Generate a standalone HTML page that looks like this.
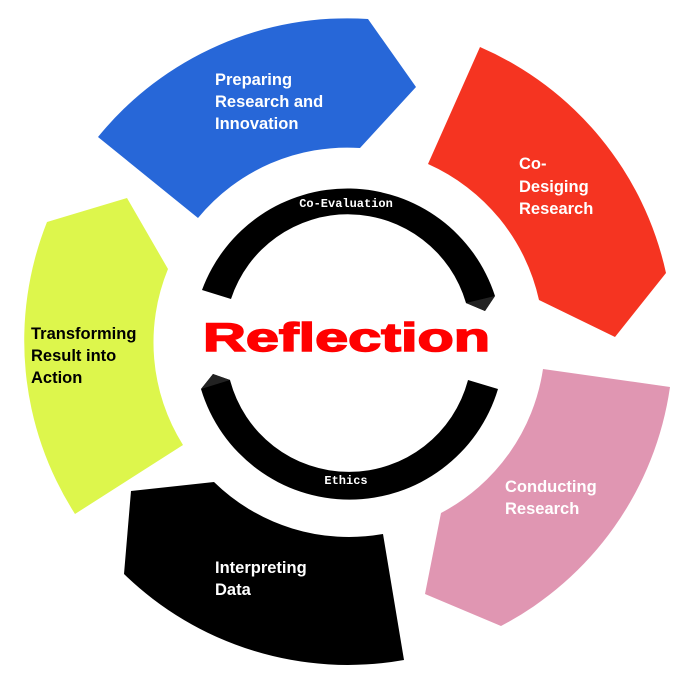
<!DOCTYPE html>
<html><head><meta charset="utf-8"><style>
html,body{margin:0;padding:0;background:#fff;}
svg{display:block;}
.l{font-family:"Liberation Sans",sans-serif;font-weight:bold;font-size:16.5px;}
.m{font-family:"Liberation Mono",monospace;font-weight:bold;font-size:12px;fill:#fff;}
</style></head><body>
<svg width="684" height="684" viewBox="0 0 684 684" xmlns="http://www.w3.org/2000/svg">
<!-- Blue -->
<path d="M98,137 A321,321 0 0 1 368,19 L416,87 L360,148 A193,193 0 0 0 198,218 Z" fill="#2767d8"/>
<!-- Red -->
<path d="M480,47 A321,321 0 0 1 666,273 L615,337 L539,300 A195,195 0 0 0 428,164 Z" fill="#f53421"/>
<!-- Yellow -->
<path d="M127,198 L47,222 A321,321 0 0 0 75,514 L183,445 A193,193 0 0 1 168,269 Z" fill="#ddf64c"/>
<!-- Black -->
<path d="M131,491 L214,482 A193,193 0 0 0 383,534 L404,660 A321,321 0 0 1 124,574 Z" fill="#000"/>
<!-- Pink -->
<path d="M543,369 L670,387 A321,321 0 0 1 501,626 L425,594 L441,513 A195,195 0 0 0 543,369 Z" fill="#e096b2"/>
<!-- top inner arc -->
<path d="M202,290 A155,155 0 0 1 495,296 L485,311 L466,303 A123,123 0 0 0 231,299 Z" fill="#000"/>
<path d="M466,303 L495,296 L485,311 Z" fill="#222"/>
<!-- bottom inner arc -->
<path d="M201,389 L213,374 L230,380 A123,123 0 0 0 468,380 L498,389 A155,155 0 0 1 201,389 Z" fill="#000"/>
<path d="M201,389 L213,374 L230,380 Z" fill="#222"/>
<text x="346" y="207" text-anchor="middle" class="m">Co-Evaluation</text>
<text x="346" y="484" text-anchor="middle" class="m">Ethics</text>
<text x="203" y="351" textLength="287" lengthAdjust="spacingAndGlyphs" font-family="Liberation Sans,sans-serif" font-weight="900" font-size="40" fill="#ff0000" stroke="#ff0000" stroke-width="1.5">Reflection</text>
<g class="l" fill="#fff">
<text x="215" y="85">Preparing</text><text x="215" y="107">Research and</text><text x="215" y="129">Innovation</text>
<text x="519" y="169">Co-</text><text x="519" y="192">Desiging</text><text x="519" y="214">Research</text>
<text x="505" y="492">Conducting</text><text x="505" y="514">Research</text>
<text x="215" y="573">Interpreting</text><text x="215" y="595">Data</text>
</g>
<g class="l" fill="#000">
<text x="31" y="339">Transforming</text><text x="31" y="361">Result into</text><text x="31" y="383">Action</text>
</g>
</svg>
</body></html>
